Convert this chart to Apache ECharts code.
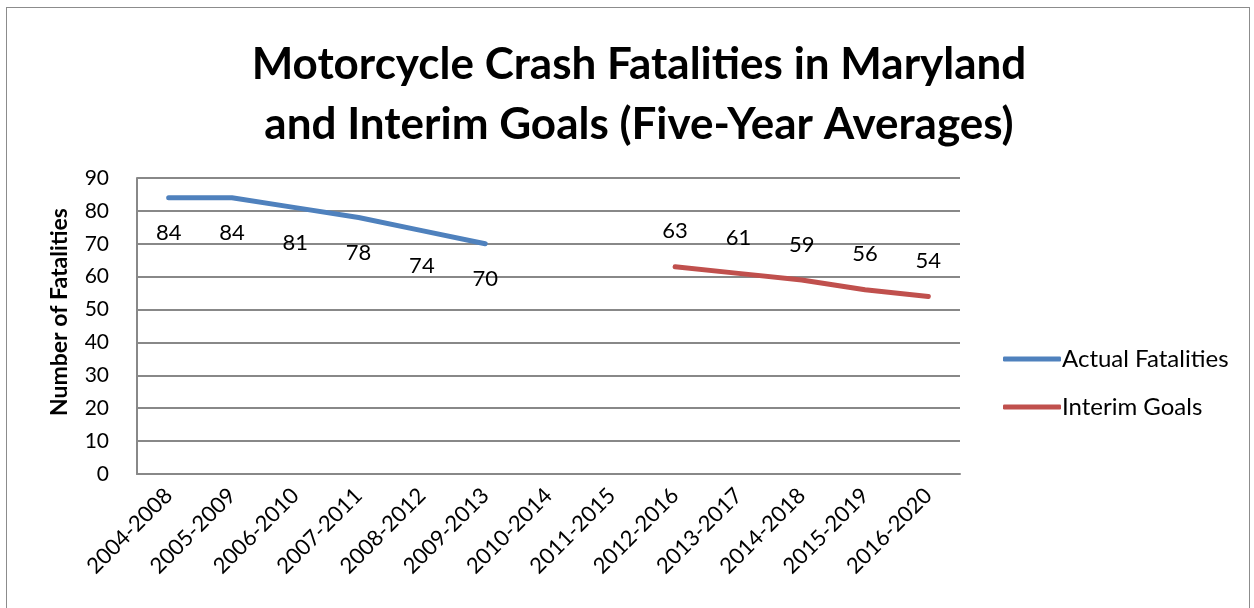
<!DOCTYPE html>
<html>
<head lang="en">
    <meta charset="UTF-8"/>
    <title>Motorcycle Crash Fatalities</title>
    <script src="https://cdn.jsdelivr.net/npm/echarts@6/dist/echarts.min.js"></script>
    <style>
        html, body { margin: 0; padding: 0; background: #fff; }
        #frame { position: absolute; left: 6px; top: 7px; width: 1244px; height: 610px;
                 border: 1px solid #8c8c8c; box-sizing: border-box; }
        #main { position: absolute; left: 0; top: 0; width: 1254px; height: 608px; }
    </style>
</head>
<body>
<div id="frame"></div>
<div id="main"></div>
<script>
    var periods = ['2004-2008', '2005-2009', '2006-2010', '2007-2011', '2008-2012', '2009-2013',
        '2010-2014', '2011-2015', '2012-2016', '2013-2017', '2014-2018', '2015-2019', '2016-2020'];
    var actual = [84, 84, 81, 78, 74, 70, null, null, null, null, null, null, null];
    var goals = [null, null, null, null, null, null, null, null, 63, 61, 59, 56, 54];

    var font = 'Lato, "Open Sans", sans-serif';
    var myChart = echarts.init(document.getElementById('main'));
    var option = {
        animation: false,
        textStyle: { fontFamily: font },
        title: {
            text: 'Motorcycle Crash Fatalities in Maryland\nand Interim Goals (Five-Year Averages)',
            left: 634, top: 30, textAlign: 'center',
            textStyle: { fontSize: 44, fontWeight: 'bold', color: '#000', lineHeight: 60, fontFamily: font }
        },
        legend: {
            orient: 'vertical', left: 998, top: 342, itemGap: 24,
            itemWidth: 58, itemHeight: 5, icon: 'roundRect',
            textStyle: { fontSize: 24, color: '#000', padding: [0, 0, 0, -4] },
            data: ['Actual Fatalities', 'Interim Goals']
        },
        grid: { left: 137, top: 178, width: 823, height: 296 },
        xAxis: {
            type: 'category', data: periods, boundaryGap: true,
            axisLine: { lineStyle: { color: '#888', width: 2 } },
            axisTick: { show: false },
            axisLabel: { interval: 0, rotate: 45, fontSize: 22, color: '#000', margin: 18 }
        },
        yAxis: {
            type: 'value', min: 0, max: 90, interval: 10,
            name: 'Number of Fatalities', nameLocation: 'middle', nameGap: 66, nameRotate: 90,
            nameTextStyle: { fontSize: 23, fontWeight: 'bold', color: '#000', padding: [0, 0, 0, 28] },
            axisLine: { show: true, lineStyle: { color: '#888', width: 2 } },
            axisTick: { show: false },
            axisLabel: { fontSize: 21, color: '#000', margin: 28 },
            splitLine: { lineStyle: { color: '#888', width: 2 } }
        },
        series: [{
            name: 'Actual Fatalities', type: 'line', data: actual,
            symbol: 'circle', symbolSize: 1, showSymbol: true, connectNulls: false,
            lineStyle: { color: '#4F81BD', width: 5, cap: 'round' },
            itemStyle: { color: '#4F81BD' },
            label: { show: true, position: 'bottom', distance: 24, fontSize: 22, color: '#000' }
        }, {
            name: 'Interim Goals', type: 'line', data: goals,
            symbol: 'circle', symbolSize: 1, showSymbol: true, connectNulls: false,
            lineStyle: { color: '#C0504D', width: 5, cap: 'round' },
            itemStyle: { color: '#C0504D' },
            label: { show: true, position: 'top', distance: 24, fontSize: 22, color: '#000' }
        }]
    };
    myChart.setOption(option);
</script>
</body>
</html>
